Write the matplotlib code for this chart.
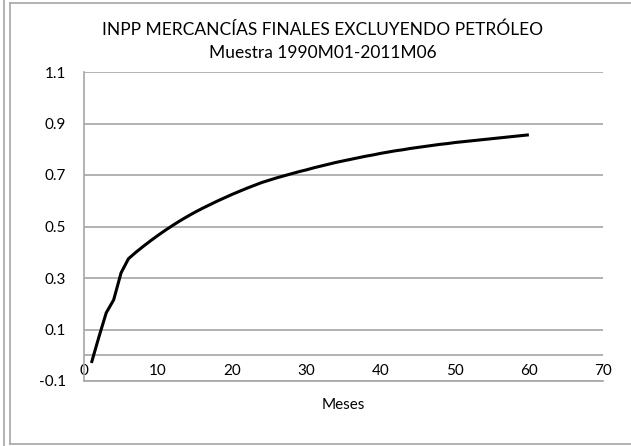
import matplotlib.pyplot as plt
from matplotlib.lines import Line2D

# Respuesta acumulada, meses 1 a 60
meses = list(range(1, 61))
respuesta = [
    -0.030, 0.070, 0.165, 0.215, 0.320, 0.375, 0.400, 0.423, 0.445, 0.466,
    0.486, 0.505, 0.523, 0.540, 0.556, 0.571, 0.585, 0.599, 0.612, 0.625,
    0.637, 0.649, 0.660, 0.671, 0.680, 0.689, 0.697, 0.705, 0.713, 0.720,
    0.728, 0.735, 0.742, 0.749, 0.755, 0.761, 0.767, 0.773, 0.778, 0.784,
    0.789, 0.794, 0.798, 0.803, 0.807, 0.811, 0.815, 0.819, 0.822, 0.826,
    0.829, 0.832, 0.835, 0.838, 0.841, 0.844, 0.847, 0.850, 0.853, 0.856,
]
yticks = [-0.1, 0.1, 0.3, 0.5, 0.7, 0.9, 1.1]
xticks = [0, 10, 20, 30, 40, 50, 60, 70]

titulo = "INPP MERCANCÍAS FINALES EXCLUYENDO PETRÓLEO\nMuestra 1990M01-2011M06"

plt.rcParams["font.family"] = ["Lato", "DejaVu Sans"]
gris = "#a6a6a6"

W, H = 631, 446
fig = plt.figure(figsize=(W / 100, H / 100), dpi=100)
ax = fig.add_axes([84/W, 1 - 381/H, 519/W, 309/H])

# marco del gráfico
for xs, ys in [([4, 4], [0, H]), ([10, W], [H - 3, H - 3]),
               ([10, 10], [H - 3, H - 444]), ([10, W], [H - 444, H - 444])]:
    fig.add_artist(Line2D([x / W for x in xs], [y / H for y in ys],
                          color=gris, lw=1.2, transform=fig.transFigure))

ax.set_xlim(0, 70)
ax.set_ylim(-0.1, 1.1)
ax.set_yticks(yticks)
ax.set_yticklabels([f"{v:.1f}" for v in yticks])
ax.set_xticks(xticks)
ax.grid(axis="y", color=gris, lw=1.2)
ax.axhline(0, color=gris, lw=1.2)
ax.set_axisbelow(True)

for s in ["top", "right"]:
    ax.spines[s].set_visible(False)
for s in ["left", "bottom"]:
    ax.spines[s].set_color(gris)
    ax.spines[s].set_linewidth(1.2)

ax.tick_params(axis="y", length=0, pad=13, labelsize=11)
ax.tick_params(axis="x", length=0, pad=-7, labelsize=11)
for lab in ax.get_xticklabels():
    lab.set_verticalalignment("center")
    lab.set_zorder(5)

ax.plot(meses, respuesta, color="black", lw=2.2, solid_capstyle="butt")

fig.text(323/W, 1 - 41/H, titulo, fontsize=12.5, linespacing=1.55,
         ha="center", va="center", multialignment="center")
ax.set_xlabel("Meses", fontsize=11, labelpad=12)

fig.savefig("out.png", dpi=100)
